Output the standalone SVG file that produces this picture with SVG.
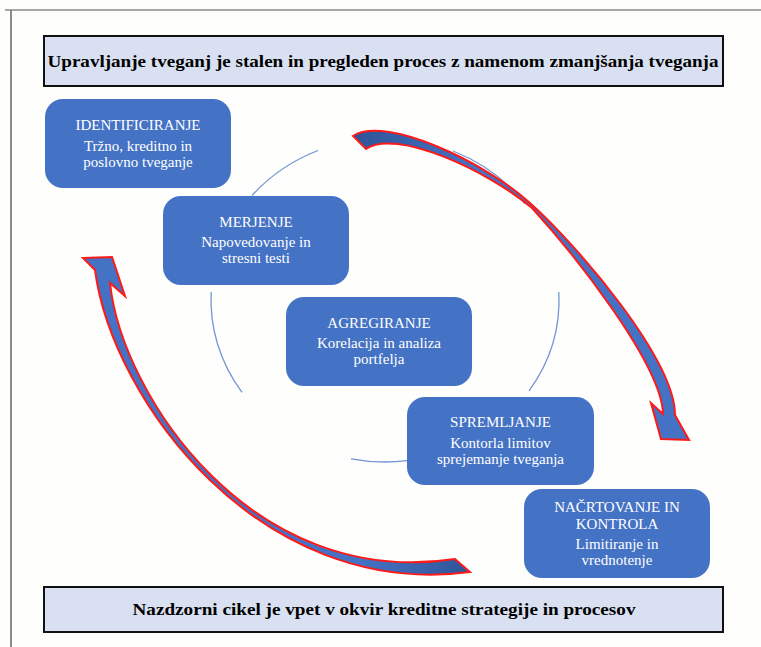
<svg xmlns="http://www.w3.org/2000/svg" width="761" height="647" viewBox="0 0 761 647">
  <defs>
    <style>
      .banner { fill: #d9e0f1; stroke: #111; stroke-width: 2; }
      .banner-text { font-family: "Liberation Serif", "Times New Roman", serif; font-weight: bold; font-size: 17px; fill: #000; text-anchor: middle; }
      .node rect { fill: #4472c4; }
      .node text { font-family: "Liberation Serif", "Times New Roman", serif; font-size: 15px; fill: #ffffff; text-anchor: middle; }
      .ring { fill: none; stroke: #7396d6; stroke-width: 1.3; }
      .cycle-arrow { stroke: #ff1a1a; stroke-width: 2; stroke-linejoin: miter; }
    </style>
    <linearGradient id="gradTop" gradientUnits="userSpaceOnUse" x1="355" y1="135" x2="470" y2="175">
      <stop offset="0" stop-color="#2f5597"/>
      <stop offset="1" stop-color="#4472c4"/>
    </linearGradient>
    <linearGradient id="gradBottom" gradientUnits="userSpaceOnUse" x1="470" y1="572" x2="360" y2="560">
      <stop offset="0" stop-color="#2f5597"/>
      <stop offset="1" stop-color="#4472c4"/>
    </linearGradient>
  </defs>

  <!-- page -->
  <rect x="0" y="0" width="761" height="647" fill="#fefefc"/>
  <line x1="5" y1="10" x2="761" y2="10" stroke="#8a8a8a" stroke-width="1.5"/>
  <line x1="11" y1="10" x2="11" y2="647" stroke="#666" stroke-width="1.5"/>

  <!-- header banner -->
  <g id="header">
    <rect class="banner" x="44" y="36" width="679" height="50"/>
    <text class="banner-text" x="383" y="67" textLength="671" lengthAdjust="spacingAndGlyphs">Upravljanje tveganj je stalen in pregleden proces z namenom zmanjšanja tveganja</text>
  </g>

  <!-- footer banner -->
  <g id="footer">
    <rect class="banner" x="44" y="587" width="679" height="45"/>
    <text class="banner-text" x="384" y="615" textLength="503" lengthAdjust="spacingAndGlyphs">Nazdzorni cikel je vpet v okvir kreditne strategije in procesov</text>
  </g>

  <!-- connectors: thin ring segments and the two curved block arrows -->
  <g id="connectors">
    <path class="ring" d="M252,195.5 A174,162 0 0 1 318,150.5"/>
    <path class="ring" d="M453,151 A174,162 0 0 1 525,203.8"/>
    <path class="ring" d="M558.8,292 A174,162 0 0 1 529,390.9"/>
    <path class="ring" d="M407,460.7 A174,162 0 0 1 351,458.9"/>
    <path class="ring" d="M242,392.3 A174,162 0 0 1 211.2,292"/>

    <path class="cycle-arrow" fill="url(#gradTop)"
          d="M353,136 C385,115 485,162 530,203 C580,248 675,360 675,415 L689,440 L661,439 L651,403 L663,414 C662,365 575,255 532,208 C487,170 395,128 366,149 Z"/>
    <path class="cycle-arrow" fill="url(#gradBottom)"
          d="M83,258 L112,257 L125,296 L110,283 C122,396 252,590 455,559 L470,572 C260,600 112,400 95,270 Z"/>
  </g>

  <!-- cycle steps -->
  <g id="identificiranje" class="node">
    <rect x="45" y="99" width="186" height="89" rx="18"/>
    <text x="138" y="130">IDENTIFICIRANJE</text>
    <text x="138" y="151">Tržno, kreditno in</text>
    <text x="138" y="167">poslovno tveganje</text>
  </g>

  <g id="merjenje" class="node">
    <rect x="163" y="196" width="186" height="89" rx="18"/>
    <text x="256" y="227">MERJENJE</text>
    <text x="256" y="247">Napovedovanje in</text>
    <text x="256" y="263">stresni testi</text>
  </g>

  <g id="agregiranje" class="node">
    <rect x="286" y="297" width="186" height="89" rx="18"/>
    <text x="379" y="328">AGREGIRANJE</text>
    <text x="379" y="348">Korelacija in analiza</text>
    <text x="379" y="364">portfelja</text>
  </g>

  <g id="spremljanje" class="node">
    <rect x="407" y="397" width="187" height="88" rx="18"/>
    <text x="500.5" y="427">SPREMLJANJE</text>
    <text x="500.5" y="448">Kontorla limitov</text>
    <text x="500.5" y="464">sprejemanje tveganja</text>
  </g>

  <g id="nacrtovanje" class="node">
    <rect x="524" y="489" width="186" height="89" rx="18"/>
    <text x="617" y="512">NAČRTOVANJE IN</text>
    <text x="617" y="529">KONTROLA</text>
    <text x="617" y="549">Limitiranje in</text>
    <text x="617" y="565">vrednotenje</text>
  </g>
</svg>
